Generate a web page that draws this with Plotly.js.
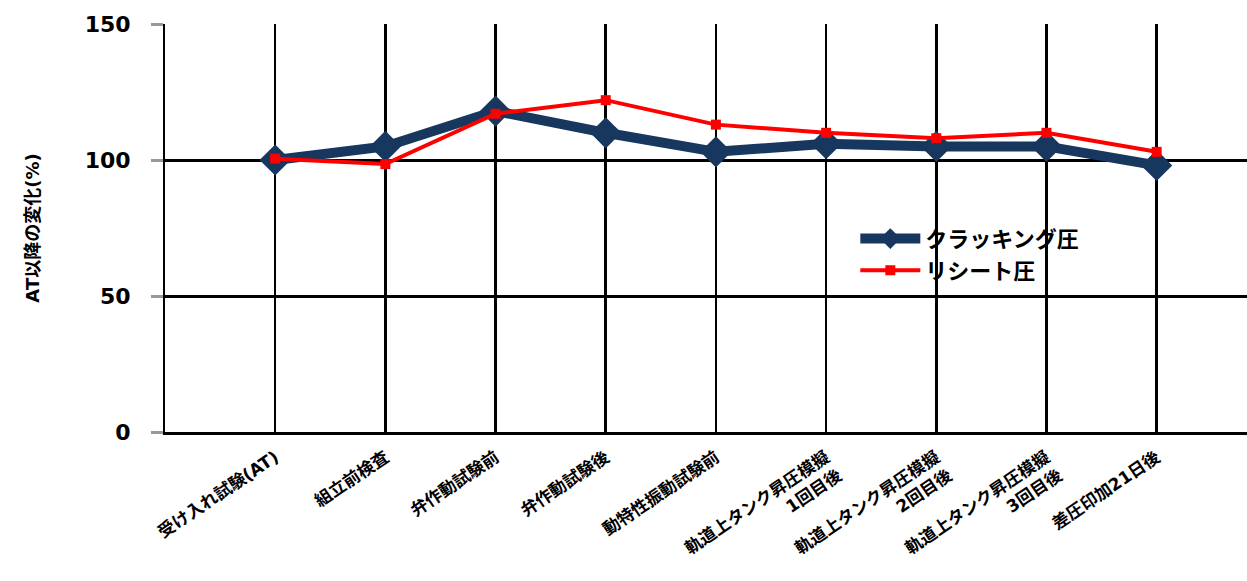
<!DOCTYPE html>
<html>
<head>
<meta charset="utf-8">
<script src="https://cdn.plot.ly/plotly-3.0.1.min.js"></script>
<style>html,body{margin:0;padding:0;background:#fff;}#chart{width:1247px;height:581px;}</style>
</head>
<body>
<div id="chart"></div>
<script>
const categories = [
  "受け入れ試験(AT)",
  "組立前検査",
  "弁作動試験前",
  "弁作動試験後",
  "動特性振動試験前",
  "軌道上タンク昇圧模擬<br>1回目後",
  "軌道上タンク昇圧模擬<br>2回目後",
  "軌道上タンク昇圧模擬<br>3回目後",
  "差圧印加21日後"
];
const crackingValues = [100, 105, 118, 110, 103, 106, 105, 105, 98];
const reseatValues = [100.5, 98.5, 117, 122, 113, 110, 108, 110, 103];
const seriesNames = ["クラッキング圧", "リシート圧"];
const yTickValues = [0, 50, 100, 150];

const idx = categories.map((c, i) => i);
const FONT = "'DejaVu Sans', 'Noto Sans CJK JP', sans-serif";

const traces = [
  {
    x: idx, y: crackingValues, name: seriesNames[0], type: "scatter", mode: "lines+markers",
    line: {color: "#17375E", width: 10},
    marker: {symbol: "diamond", size: 24, color: "#17375E"}
  },
  {
    x: idx, y: reseatValues, name: seriesNames[1], type: "scatter", mode: "lines+markers",
    line: {color: "#FF0000", width: 4},
    marker: {symbol: "square", size: 10, color: "#FF0000"}
  }
];

const layout = {
  width: 1247, height: 581,
  margin: {l: 165, r: 0, t: 24, b: 149},
  paper_bgcolor: "#fff", plot_bgcolor: "#fff",
  showlegend: true,
  legend: {
    x: 0.638, y: 0.525, xanchor: "left", yanchor: "top",
    bgcolor: "rgba(0,0,0,0)",
    font: {family: FONT, size: 22, color: "#000", weight: "bold"},
    tracegroupgap: 0, itemwidth: 60
  },
  xaxis: {
    range: [-1, 8.82],
    tickmode: "array", tickvals: idx, ticktext: categories,
    tickangle: -34,
    showgrid: true, gridcolor: "#000", gridwidth: 2.5,
    showline: true, linecolor: "#000", linewidth: 3,
    ticks: "", zeroline: false,
    ticklabelstandoff: 6,
    tickfont: {family: FONT, size: 17, color: "#000", weight: "bold"},
    fixedrange: true
  },
  yaxis: {
    range: [0, 150],
    tickmode: "array", tickvals: yTickValues,
    showgrid: true, gridcolor: "#000", gridwidth: 3,
    showline: true, linecolor: "#000", linewidth: 2,
    ticks: "outside", ticklen: 12, tickwidth: 3, tickcolor: "#999",
    ticklabelstandoff: 16,
    zeroline: false,
    tickfont: {family: FONT, size: 22, color: "#000", weight: "bold"},
    title: {text: "AT以降の変化(%)", font: {family: FONT, size: 18, color: "#000", weight: "bold"}, standoff: 40},
    fixedrange: true
  }
};

Plotly.newPlot("chart", traces, layout, {displayModeBar: false, staticPlot: true});
</script>
</body>
</html>
